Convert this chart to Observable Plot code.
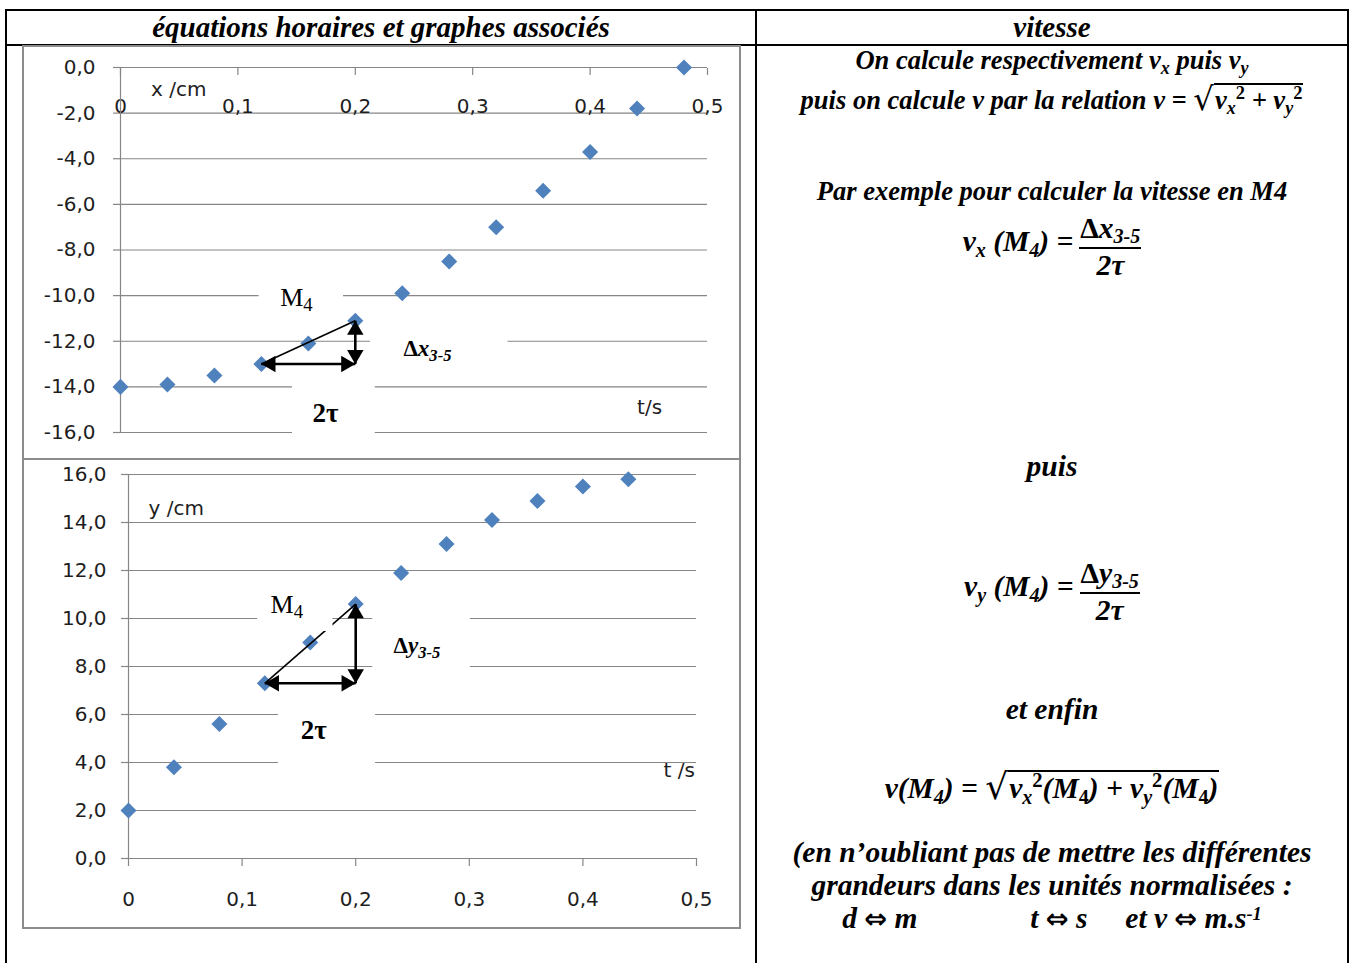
<!DOCTYPE html>
<html><head><meta charset="utf-8">
<script src="https://cdn.jsdelivr.net/npm/d3@7"></script>
<script src="https://cdn.jsdelivr.net/npm/@observablehq/plot@0.6"></script>
<style>
body{margin:0;background:#fff;}
#page{position:relative;width:1352px;height:963px;overflow:hidden;font-family:"Liberation Serif","Times New Roman",serif;color:#000;}
.ln{position:absolute;background:#000;}
.frame{position:absolute;border:2px solid #8c8c8c;box-sizing:border-box;}
.plot{position:absolute;}
.hd{position:absolute;font-weight:bold;font-style:italic;font-size:29px;line-height:32px;text-align:center;white-space:nowrap;}
.tx{position:absolute;left:757px;width:590px;text-align:center;font-weight:bold;font-style:italic;font-size:26.5px;line-height:30px;white-space:nowrap;}
.big{font-size:29.5px;line-height:33px;}
.fx{display:flex;justify-content:center;align-items:center;height:70px;}
.sb{font-size:0.68em;position:relative;top:0.28em;}
.sp{font-size:0.7em;position:relative;top:-0.55em;font-style:normal;}
.sp1{font-size:0.62em;position:relative;top:-0.42em;}
.up{font-style:normal;}
.arr{font-family:"DejaVu Sans",sans-serif;font-style:normal;font-weight:bold;font-size:0.92em;}
.sq{font-family:"DejaVu Serif",serif;font-style:normal;font-weight:normal;font-size:1.22em;position:relative;top:1px;}
.rad{border-top:2px solid #000;padding:0 1px;}
.frac{display:inline-flex;flex-direction:column;align-items:center;margin-left:6px;}
.num{border-bottom:2px solid #000;line-height:32px;padding:0 1px;}
.den{line-height:32px;}
.lhs{position:relative;top:-3px;}
</style></head>
<body>
<div id="page">
  <div class="ln" style="left:5px;top:9px;width:1344px;height:2px"></div>
  <div class="ln" style="left:5px;top:44px;width:1344px;height:2px"></div>
  <div class="ln" style="left:5px;top:9px;width:2px;height:954px"></div>
  <div class="ln" style="left:755px;top:9px;width:2px;height:954px"></div>
  <div class="ln" style="left:1347px;top:9px;width:2px;height:954px"></div>

  <div class="hd" style="left:7px;width:748px;top:11px">équations horaires et graphes associés</div>
  <div class="hd" style="left:757px;width:590px;top:11px">vitesse</div>

  <div class="frame" style="left:22px;top:45px;width:719px;height:415px"></div>
  <div class="frame" style="left:22px;top:458px;width:719px;height:471px"></div>
  <div class="plot" id="chart1" style="left:24px;top:47px"></div>
  <div class="plot" id="chart2" style="left:24px;top:460px"></div>

  <div class="tx" style="top:45px">On calcule respectivement v<span class="sb">x</span> puis v<span class="sb">y</span></div>
  <div class="tx" style="top:83px">puis on calcule v par la relation v = <span class="sq">√</span><span class="rad">v<span class="sb">x</span><span class="sp">2</span> + v<span class="sb">y</span><span class="sp">2</span></span></div>
  <div class="tx" style="top:176px">Par exemple pour calculer la vitesse en M4</div>
  <div class="tx big fx" style="top:211px"><span class="lhs">v<span class="sb">x</span> (M<span class="sb">4</span>) =</span><span class="frac"><span class="num"><span class="up">Δ</span>x<span class="sb">3-5</span></span><span class="den">2τ</span></span></div>
  <div class="tx big" style="top:450px">puis</div>
  <div class="tx big fx" style="top:556px"><span class="lhs">v<span class="sb">y</span> (M<span class="sb">4</span>) =</span><span class="frac"><span class="num"><span class="up">Δ</span>y<span class="sb">3-5</span></span><span class="den">2τ</span></span></div>
  <div class="tx big" style="top:693px">et enfin</div>
  <div class="tx big" style="top:769px">v(M<span class="sb">4</span>) = <span class="sq">√</span><span class="rad">v<span class="sb">x</span><span class="sp">2</span>(M<span class="sb up">4</span>) + v<span class="sb">y</span><span class="sp">2</span>(M<span class="sb up">4</span>)</span></div>
  <div class="tx big" style="top:836px">(en n’oubliant pas de mettre les différentes</div>
  <div class="tx big" style="top:869px">grandeurs dans les unités normalisées :</div>
  <div class="tx big" style="top:902px"><span style="display:inline-block;width:84px;text-align:left">d <span class="arr">⇔</span> m</span><span style="display:inline-block;width:104px"></span><span style="display:inline-block;width:66px;text-align:left">t <span class="arr">⇔</span> s</span><span style="display:inline-block;width:29px"></span>et v <span class="arr">⇔</span> m.s<span class="sp1">-1</span></div>
</div>
<script>
// ---- data ----
const tTicks = [0, 0.1, 0.2, 0.3, 0.4, 0.5];
const xTickValues = [0, -2, -4, -6, -8, -10, -12, -14, -16];
const yTickValues = [0, 2, 4, 6, 8, 10, 12, 14, 16];

const timesX = [0, 0.04, 0.08, 0.12, 0.16, 0.20, 0.24, 0.28, 0.32, 0.36, 0.40, 0.44, 0.48];
const positionsX = [-14.0, -13.9, -13.5, -13.0, -12.1, -11.1, -9.9, -8.5, -7.0, -5.4, -3.7, -1.8, 0.0];

const timesY = [0, 0.04, 0.08, 0.12, 0.16, 0.20, 0.24, 0.28, 0.32, 0.36, 0.40, 0.44];
const positionsY = [2.0, 3.8, 5.6, 7.3, 9.0, 10.6, 11.9, 13.1, 14.1, 14.9, 15.5, 15.8];

// axis titles and annotations (anchors in data units)
const titles1 = [{text: "x /cm", t: 0.026, v: -0.96}, {text: "t/s", t: 0.44, v: -14.9}];
const titles2 = [{text: "y /cm", t: 0.0176, v: 14.58}, {text: "t /s", t: 0.471, v: 3.67}];
const notes1 = [
  {kind: "point", text: "M_{4}", t: 0.136, v: -10.1},
  {kind: "delta", text: "Δ*x*_{*3-5*}", t: 0.241, v: -12.32},
  {kind: "tau", text: "2τ", t: 0.1746, v: -15.18}
];
const notes2 = [
  {kind: "point", text: "M_{4}", t: 0.125, v: 10.58},
  {kind: "delta", text: "Δ*y*_{*3-5*}", t: 0.2333, v: 8.875},
  {kind: "tau", text: "2τ", t: 0.163, v: 5.33}
];
// white text-box backgrounds that cut the gridlines
const masks1 = [
  {t1: 0.118, t2: 0.19, v1: -9.3, v2: -11.0},
  {t1: 0.213, t2: 0.33, v1: -11.3, v2: -13.3},
  {t1: 0.1465, t2: 0.217, v1: -13.45, v2: -16.3}
];
const masks2 = [
  {t1: 0.1136, t2: 0.18, v1: 11.25, v2: 9.46},
  {t1: 0.215, t2: 0.301, v1: 10.75, v2: 7.0},
  {t1: 0.132, t2: 0.2175, v1: 6.55, v2: 3.04}
];

// ---- styles ----
const GRID = "#868686";
const TEXT = "#1e1e1e";
const BLUE = "#4f81bd";
const SANS = "DejaVu Sans, sans-serif";
const SERIF = "Liberation Serif, Times New Roman, serif";
const noteStyles = {
  point: {fontSize: 26, fontWeight: "normal", textAnchor: "start"},
  delta: {fontSize: 23, fontWeight: "bold", textAnchor: "start"},
  tau: {fontSize: 27, fontWeight: "bold", textAnchor: "middle"}
};

const fmtV = d => d.toFixed(1).replace(".", ",");
const fmtT = d => d === 0 ? "0" : d.toFixed(1).replace(".", ",");

function rich(s) {
  return s.replace(/\*([^*]+)\*/g, '<tspan font-style="italic">$1</tspan>')
          .replace(/_\{([^}]+)\}/g, '<tspan dy="0.28em" font-size="0.72em">$1</tspan>');
}

function build(cfg) {
  const pts = cfg.times.map((t, i) => ({t, v: cfg.values[i]}));
  const seg = [{a: pts[3], b: pts[5]}];
  const headR = 6.1, tip = 9.4;
  const head = (x, y, rotate, dx, dy) =>
    Plot.dot(seg, {x, y, symbol: "triangle", r: headR, rotate, dx, dy, fill: "black"});
  const chart = Plot.plot({
    width: cfg.width, height: cfg.height,
    marginLeft: cfg.ml, marginRight: cfg.mr, marginTop: cfg.mt, marginBottom: cfg.mb,
    x: {domain: [0, 0.5]},
    y: {domain: cfg.yDomain},
    style: {fontFamily: SANS, fontSize: "20px", color: TEXT, background: "transparent", overflow: "visible"},
    marks: [
      Plot.gridY(cfg.yTicks, {stroke: GRID, strokeOpacity: 1, strokeWidth: 1.2}),
      Plot.axisY(cfg.yTicks, {tickSize: 7, tickPadding: cfg.yPad, tickFormat: fmtV, stroke: GRID, strokeWidth: 1.2, fill: TEXT, label: null}),
      cfg.topAxis
        ? Plot.axisX(tTicks, {anchor: "top", tickSize: -7, tickPadding: -38, tickFormat: fmtT, stroke: GRID, strokeWidth: 1.2, fill: TEXT, label: null})
        : Plot.axisX(tTicks, {anchor: "bottom", tickSize: 8, tickPadding: 25, tickFormat: fmtT, stroke: GRID, strokeWidth: 1.2, fill: TEXT, label: null}),
      Plot.ruleX([0], {stroke: GRID, strokeWidth: 1.2}),
      Plot.dot(pts, {x: "t", y: "v", symbol: "square", rotate: 45, r: 6.4, fill: BLUE}),
      Plot.link(seg, {x1: d => d.a.t, y1: d => d.a.v, x2: d => d.b.t, y2: d => d.b.v, stroke: "black", strokeWidth: 1.6}),
      Plot.rect(cfg.masks, {x1: "t1", x2: "t2", y1: "v1", y2: "v2", fill: "white"}),
      Plot.link(seg, {x1: d => d.a.t, y1: d => d.a.v, x2: d => d.b.t, y2: d => d.a.v, stroke: "black", strokeWidth: 2.6}),
      Plot.link(seg, {x1: d => d.b.t, y1: d => d.a.v, x2: d => d.b.t, y2: d => d.b.v, stroke: "black", strokeWidth: 2.6}),
      head(d => d.a.t, d => d.a.v, -90, tip, 0),
      head(d => d.b.t, d => d.a.v, 90, -tip, 0),
      head(d => d.b.t, d => d.a.v, 180, 0, -tip),
      head(d => d.b.t, d => d.b.v, 0, 0, tip),
      Plot.text(cfg.titles, {x: "t", y: "v", text: "text", textAnchor: "start", fontFamily: SANS, fontSize: 20, fill: TEXT}),
      ...cfg.notes.map(n => Plot.text([n], {
        x: "t", y: "v", text: "text", fontFamily: SERIF, fill: "black",
        ...noteStyles[n.kind]
      }))
    ]
  });
  chart.querySelectorAll("text").forEach(el => {
    if (el.childElementCount === 0 && /[_*]/.test(el.textContent)) el.innerHTML = rich(el.textContent);
  });
  return chart;
}

document.getElementById("chart1").appendChild(build({
  times: timesX, values: positionsX, yTicks: xTickValues, yDomain: [-16, 0],
  width: 714, height: 410, ml: 96, mr: 31, mt: 20, mb: 25, yPad: 18, topAxis: true,
  titles: titles1, notes: notes1, masks: masks1
}));
document.getElementById("chart2").appendChild(build({
  times: timesY, values: positionsY, yTicks: yTickValues, yDomain: [0, 16],
  width: 714, height: 466, ml: 104, mr: 42, mt: 14, mb: 68, yPad: 15, topAxis: false,
  titles: titles2, notes: notes2, masks: masks2
}));
</script>
</body></html>
